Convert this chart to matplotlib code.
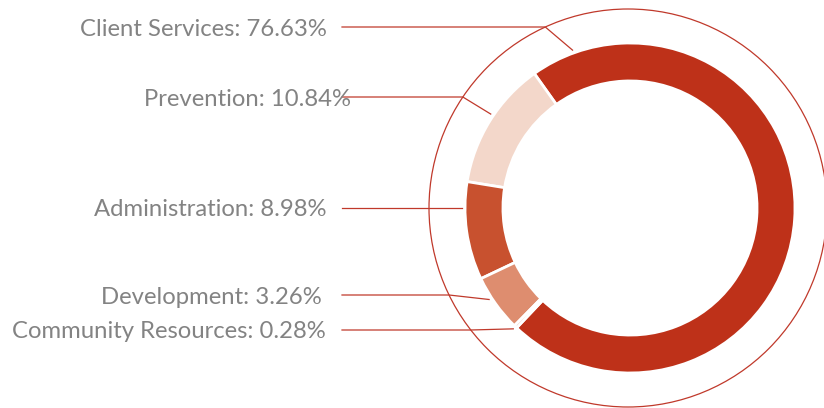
import numpy as np
import matplotlib.pyplot as plt
from matplotlib.patches import Circle

# data
categories = ["Client Services", "Prevention", "Administration", "Development", "Community Resources"]
percent = [76.63, 10.84, 8.98, 3.26, 0.28]
# arc sizes as drawn in the picture (the chart does not draw them to scale)
arc_share = [71.9, 12.6, 9.6, 5.6, 0.3]
colors = ["#BE3119", "#F3D7CA", "#C8512F", "#DE8D6F", "#E9A98F"]

line_color = "#C0392B"
text_color = "#838383"

fig = plt.figure(figsize=(8.24, 4.08), dpi=100)
ax = fig.add_axes([0, 0, 1, 1])

cx, cy = 630, 200
R = 165
ring = 0.23 * R

wedges, _ = ax.pie(arc_share, colors=colors, startangle=226.6, counterclock=True,
                   radius=R, center=(cx, cy),
                   wedgeprops=dict(width=ring, edgecolor="white", linewidth=2))

# thin outer circle the leader lines bend on
R_out = 199
ocx = cx - 2
ax.add_patch(Circle((ocx, cy), R_out, fill=False, ec=line_color, lw=0.9))

# label layout (pixel y from top), text right edge, tick angle on the ring
label_y = [27, 97, 208, 295, 330]
text_right = [327, 351, 327, 322, 326]
tick_angle = [110, 146, 180, 213, 226]
line_start = 342

for i, name in enumerate(categories):
    y = 408 - label_y[i]
    ax.text(text_right[i], y - 2, f"{name}: {percent[i]:.2f}%", ha="right", va="center",
            fontsize=17.2, color=text_color, family="Lato", fontweight="normal")
    dy = y - cy
    ex = ocx - np.sqrt(R_out ** 2 - dy ** 2)
    a = np.radians(tick_angle[i])
    tx = cx + (R + 3) * np.cos(a)
    ty = cy + (R + 3) * np.sin(a)
    ax.plot([line_start, ex, tx], [y, y, ty], color=line_color, lw=0.9)

ax.set_xlim(0, 824)
ax.set_ylim(0, 408)
ax.set_aspect("equal")
ax.axis("off")

fig.savefig("out.png", dpi=100)
